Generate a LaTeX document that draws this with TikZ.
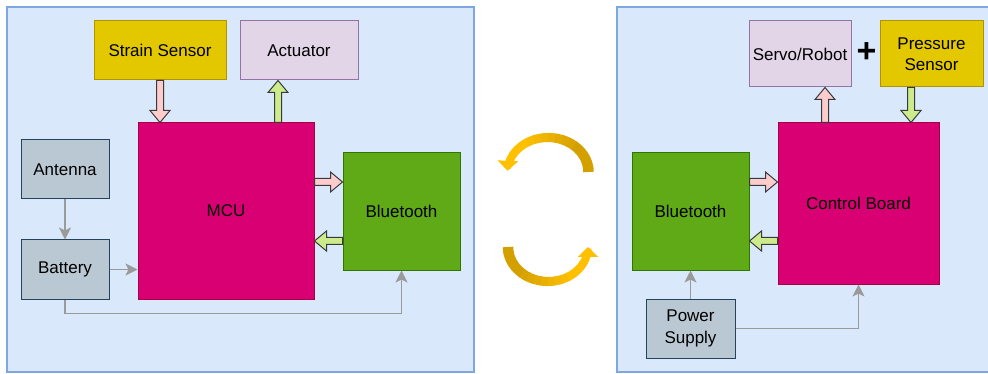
\documentclass[tikz,border=0pt]{standalone}
\usepackage{fontspec}
\setmainfont{Liberation Sans}
\usetikzlibrary{arrows.meta,calc}

\definecolor{panelfill}{HTML}{DAE8FC}
\definecolor{paneledge}{HTML}{7EA6E0}
\definecolor{sensorfill}{HTML}{E3C800}
\definecolor{sensoredge}{HTML}{B09500}
\definecolor{actfill}{HTML}{E1D5E7}
\definecolor{actedge}{HTML}{9673A6}
\definecolor{mcufill}{HTML}{D80073}
\definecolor{mcuedge}{HTML}{A50040}
\definecolor{btfill}{HTML}{60A917}
\definecolor{btedge}{HTML}{2D7600}
\definecolor{grayfill}{HTML}{BAC8D3}
\definecolor{grayedge}{HTML}{23445D}
\definecolor{pinkarrow}{HTML}{FFCCCC}
\definecolor{greenarrow}{HTML}{CDEB8B}
\definecolor{arrowedge}{HTML}{36393D}
\definecolor{wire}{HTML}{9A9A9A}
\definecolor{golddark}{HTML}{D4A000}
\definecolor{goldlight}{HTML}{FFC000}

\tikzset{
  panel/.style={draw=paneledge, fill=panelfill, line width=1.2pt},
  box/.style={draw, line width=1pt, inner sep=0pt, align=center,
    font=\fontsize{17}{21.5}\selectfont},
  sensor/.style={box, fill=sensorfill, draw=sensoredge},
  actbox/.style={box, fill=actfill, draw=actedge},
  mcubox/.style={box, fill=mcufill, draw=mcuedge},
  btbox/.style={box, fill=btfill, draw=btedge},
  graybox/.style={box, fill=grayfill, draw=grayedge},
  fatedge/.style={draw=arrowedge, line width=1pt, line join=miter},
  wireline/.style={draw=wire, line width=1.1pt,
    -{Stealth[length=12pt,width=12pt,inset=3pt]}},
  loophead/.style={-{Triangle[length=10pt,width=20pt]}},
  toploop/.style={x radius=40.5pt, y radius=34.5pt},
  botloop/.style={x radius=40pt, y radius=34.5pt}
}

% thick outlined block arrow from #1 to #2, filled with #3
\newcommand\fatarrow[3]{%
  \coordinate (fah) at ($(#2)!12pt!(#1)$);
  \filldraw[fatedge, fill=#3]
    ($(#1)!3.5pt!90:(#2)$) -- ($(fah)!3.5pt!90:(#2)$) -- ($(fah)!10pt!90:(#2)$)
    -- (#2) -- ($(fah)!10pt!-90:(#2)$) -- ($(fah)!3.5pt!-90:(#2)$)
    -- ($(#1)!3.5pt!-90:(#2)$) -- cycle;}

\begin{document}
\begin{tikzpicture}[x=1pt, y=-1pt]
\useasboundingbox (0,0) rectangle (988,374);
\clip (0,0) rectangle (988,374);

% ---- wearable side ----
\draw[panel] (7,7) rectangle (474,372);
\node[sensor, minimum width=132pt, minimum height=59pt] (strain) at (160,50.5) {Strain Sensor};
\node[actbox, minimum width=118pt, minimum height=59pt] (act) at (299,50.5) {Actuator};
\node[mcubox, minimum width=176pt, minimum height=176pt] (mcu) at (226,211) {MCU};
\node[graybox, minimum width=88pt, minimum height=59pt] (antenna) at (65,169.5) {Antenna};
\node[graybox, minimum width=88pt, minimum height=59pt] (battery) at (65,269.5) {Battery};
\node[btbox, minimum width=117pt, minimum height=117pt] (bt1) at (401.5,211.5) {Bluetooth};

\coordinate (a1e) at (strain.south |- mcu.north);
\coordinate (a2s) at ($(mcu.north)+(52,0)$);
\coordinate (a2e) at (a2s |- act.south);
\coordinate (a3s) at ($(mcu.east)+(0,-29)$);
\coordinate (a3e) at (a3s -| bt1.west);
\coordinate (a4s) at ($(bt1.west)+(0,29.5)$);
\coordinate (a4e) at (a4s -| mcu.east);
\fatarrow{strain.south}{a1e}{pinkarrow}
\fatarrow{a2s}{a2e}{greenarrow}
\fatarrow{a3s}{a3e}{pinkarrow}
\fatarrow{a4s}{a4e}{greenarrow}

\draw[wireline] (antenna.south) -- (battery.north);
\draw[wireline] (battery.east) -- (battery.east -| mcu.west);
\draw[wireline] (battery.south) -- ++(0,14) -| (bt1.south);

% ---- exchange loop: bands taper and brighten from tail to head ----
\coordinate (tc) at (548,172);
\coordinate (bc) at (548,247);
\foreach \ang in {0,10,...,150} {
  \pgfmathsetmacro\segw{10.5-3*\ang/180}
  \pgfmathtruncatemacro\segp{max(0,min(100,100-(\ang-40)*1.25))}
  \draw[line width=\segw pt, color=golddark!\segp!goldlight]
    ($(tc)+(\ang:40.5pt and 34.5pt)$) arc[toploop, start angle=\ang, end angle=\ang+11];
}
\draw[line width=7.7pt, loophead, goldlight]
  ($(tc)+(160:40.5pt and 34.5pt)$) arc[toploop, start angle=160, end angle=178];

\foreach \ang in {180,190,...,330} {
  \pgfmathsetmacro\segw{10.5-3*(\ang-180)/180}
  \pgfmathtruncatemacro\segp{max(0,min(100,100-(\ang-220)*1.25))}
  \draw[line width=\segw pt, color=golddark!\segp!goldlight]
    ($(bc)+(\ang:40pt and 34.5pt)$) arc[botloop, start angle=\ang, end angle=\ang+11];
}
\draw[line width=7.7pt, loophead, goldlight]
  ($(bc)+(340:40pt and 34.5pt)$) arc[botloop, start angle=340, end angle=360];

% ---- robot side ----
\draw[panel] (617,7) rectangle (1000,372);
\node[actbox, minimum width=102pt, minimum height=66pt] (servo) at (800,54) {Servo/Robot};
\node[sensor, minimum width=103pt, minimum height=66pt] (pressure) at (931.5,54) {Pressure\\Sensor};
\node[font=\fontsize{34}{34}\selectfont\bfseries, inner sep=0pt] (plus) at (866.5,53) {+};
\node[mcubox, minimum width=161pt, minimum height=161pt] (ctrl) at (858.5,203.5) {Control Board};
\node[btbox, minimum width=117pt, minimum height=117pt] (bt2) at (690.5,211.5) {Bluetooth};
\node[graybox, minimum width=89pt, minimum height=59pt] (power) at (690.5,328.5) {Power\\Supply};

\coordinate (a5s) at ($(ctrl.north)+(-33.5,0)$);
\coordinate (a5e) at (a5s |- servo.south);
\coordinate (a6s) at ($(pressure.south)+(-20.5,0)$);
\coordinate (a6e) at (a6s |- ctrl.north);
\coordinate (a7s) at ($(bt2.east)+(0,-29.5)$);
\coordinate (a7e) at (a7s -| ctrl.west);
\coordinate (a8s) at ($(ctrl.west)+(0,37.5)$);
\coordinate (a8e) at (a8s -| bt2.east);
\fatarrow{a5s}{a5e}{pinkarrow}
\fatarrow{a6s}{a6e}{greenarrow}
\fatarrow{a7s}{a7e}{pinkarrow}
\fatarrow{a8s}{a8e}{greenarrow}

\draw[wireline] (power.north) -- (bt2.south);
\draw[wireline] (power.east) -| (ctrl.south);
\end{tikzpicture}
\end{document}
